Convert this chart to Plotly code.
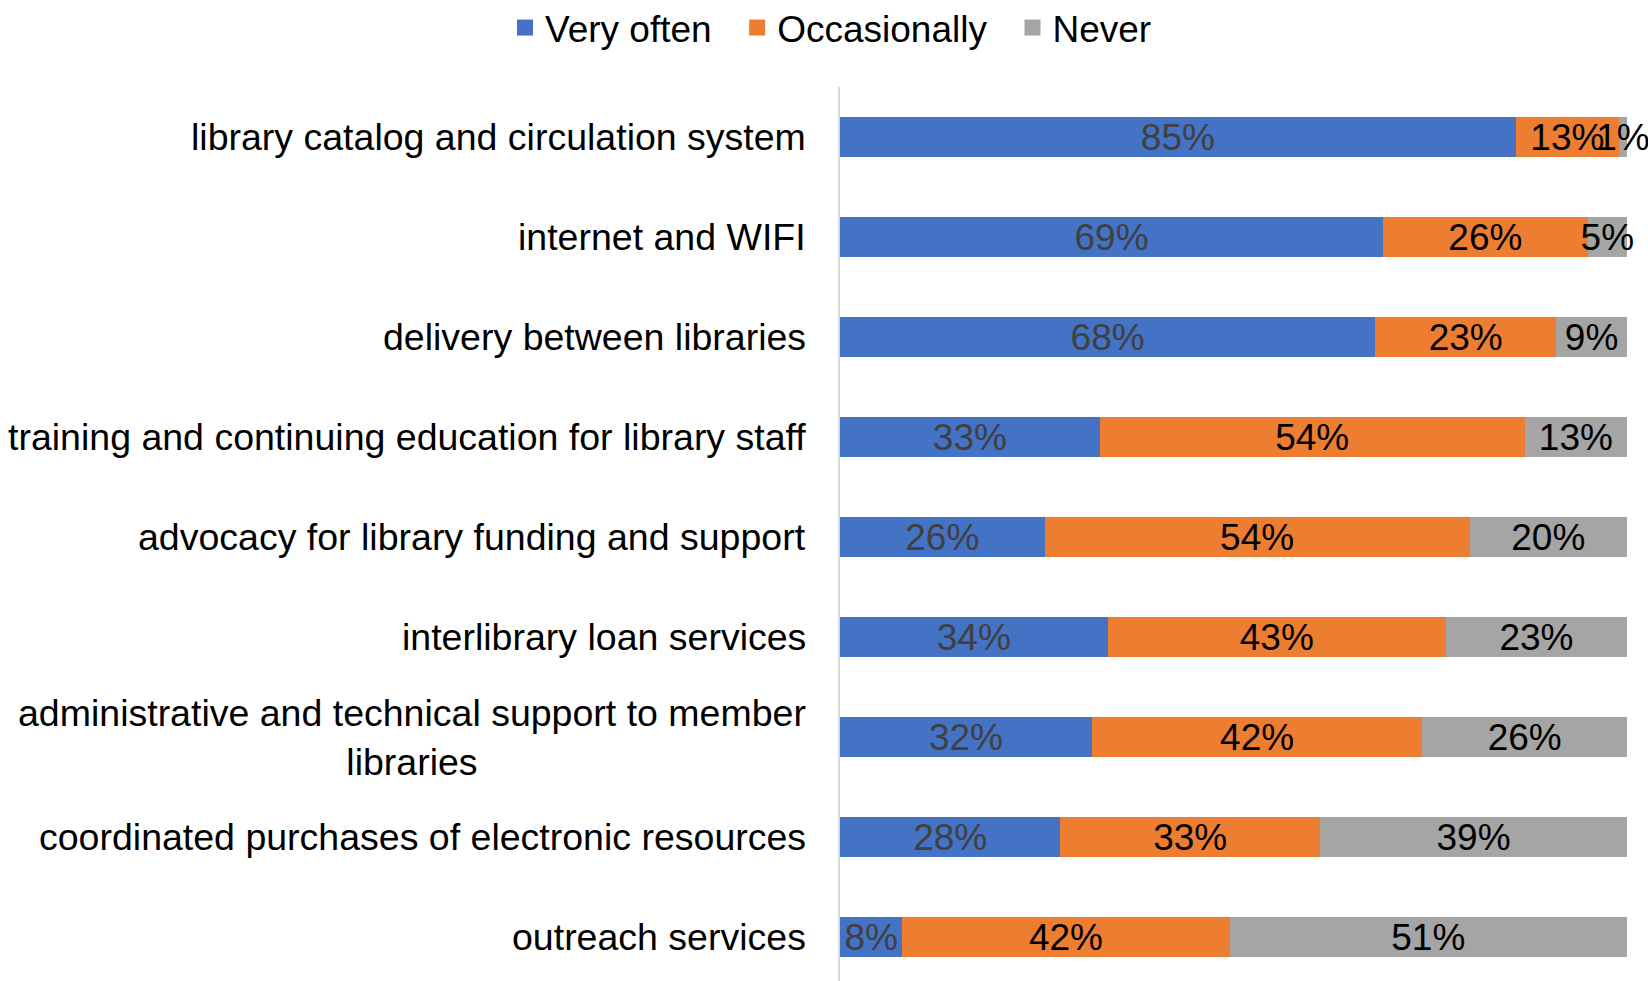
import plotly.graph_objects as go

# Survey items, top to bottom
categories = [
    "library catalog and circulation system",
    "internet and WIFI",
    "delivery between libraries",
    "training and continuing education for library staff",
    "advocacy for library funding and support",
    "interlibrary loan services",
    "administrative and technical support to member<br>libraries",
    "coordinated purchases of electronic resources",
    "outreach services",
]

# Share of respondents (%) per answer
very_often = [85, 69, 68, 33, 26, 34, 32, 28, 8]
occasionally = [13, 26, 23, 54, 54, 43, 42, 33, 42]
never = [1, 5, 9, 13, 20, 23, 26, 39, 51]

# (series name, values, fill colour, label colour, legend padding)
series = [
    ("Very often", very_often, "#4472C4", "#404040", "\u00a0\u00a0"),
    ("Occasionally", occasionally, "#ED7D31", "#000000", "\u00a0\u00a0"),
    ("Never", never, "#A5A5A5", "#000000", ""),
]

FONT = "Liberation Sans, Arial, sans-serif"
W, H = 1648, 981
PLOT_L, PLOT_R, PLOT_T = 840, 21, 87

fig = go.Figure()
for name, vals, color, txtcolor, pad in series:
    fig.add_trace(go.Bar(
        y=categories,
        x=vals,
        orientation="h",
        name=name,
        marker=dict(color=color, line=dict(width=0)),
        text=[f"{v}%" for v in vals],
        textposition="inside",
        insidetextanchor="middle",
        textangle=0,
        constraintext="none",
        cliponaxis=False,
        textfont=dict(family=FONT, size=37, color=txtcolor),
        width=0.4,
        showlegend=False,
        hoverinfo="skip",
    ))
    # legend entry with a larger square swatch
    fig.add_trace(go.Scatter(
        x=[None], y=[None], mode="markers", name=name + pad,
        marker=dict(symbol="square", size=17, color=color),
        showlegend=True,
    ))

# Category labels, centred per line
for cat in categories:
    fig.add_annotation(
        x=0, xref="paper", xanchor="right", xshift=-32,
        y=cat, yref="y", yanchor="middle",
        text=cat, showarrow=False, align="center",
        font=dict(family=FONT, size=37.5, color="#000000"),
    )

fig.update_layout(
    width=W, height=H,
    barmode="stack",
    barnorm="percent",
    paper_bgcolor="white",
    plot_bgcolor="white",
    margin=dict(l=PLOT_L, r=PLOT_R, t=PLOT_T, b=0, pad=0),
    font=dict(family=FONT, size=37, color="#000000"),
    legend=dict(
        orientation="h",
        traceorder="normal",
        xref="container", yref="container",
        x=831 / W, xanchor="center",
        y=1 - 28 / H, yanchor="middle",
        font=dict(family=FONT, size=37, color="#000000"),
        bgcolor="rgba(0,0,0,0)",
        itemsizing="trace",
    ),
    xaxis=dict(
        range=[0, 100], showgrid=False, zeroline=False,
        showticklabels=False, showline=False, fixedrange=True,
    ),
    yaxis=dict(
        type="category",
        categoryorder="array", categoryarray=categories,
        range=[8.44, -0.5],
        showticklabels=False, showgrid=False, zeroline=False,
        showline=True, linecolor="#D9D9D9", linewidth=2,
        fixedrange=True,
    ),
)

fig.write_html("out.html")
